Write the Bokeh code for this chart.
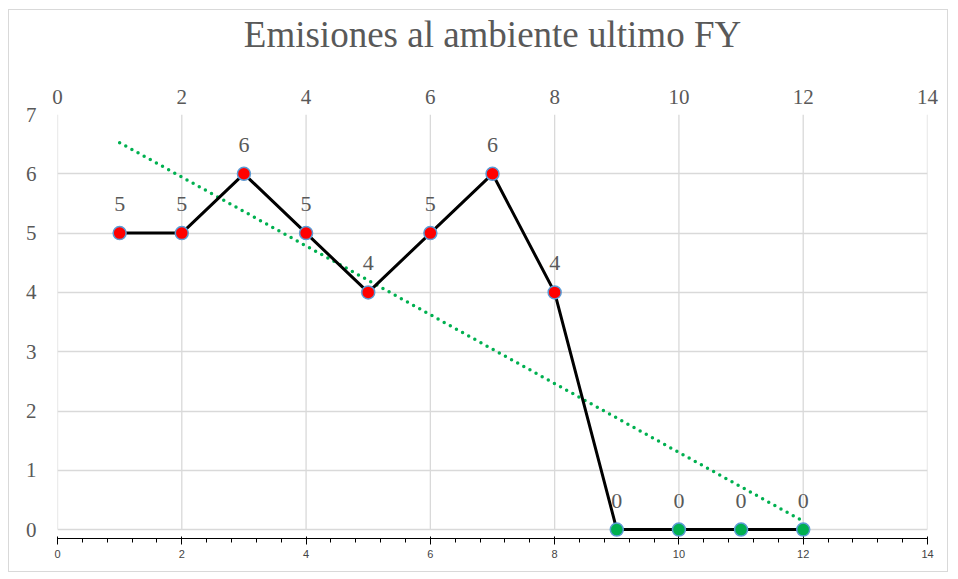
import numpy as np
from bokeh.plotting import figure
from bokeh.models import (ColumnDataSource, Range1d, FixedTicker, LabelSet,
                          LinearAxis)
from bokeh.embed import file_html
from bokeh.resources import INLINE

x_vals = [1, 2, 3, 4, 5, 6, 7, 8, 9, 10, 11, 12]
y_vals = [5, 5, 6, 5, 4, 5, 6, 4, 0, 0, 0, 0]
marker_fill = ["#FF0000"] * 8 + ["#00B050"] * 4
x_ticks = [0, 2, 4, 6, 8, 10, 12, 14]
y_ticks = [0, 1, 2, 3, 4, 5, 6, 7]
title_text = "Emisiones al ambiente ultimo FY"

FONT = "Times New Roman"
TXT = "#595959"
GRID = "#D9D9D9"

p = figure(width=940, height=563, output_backend="svg", toolbar_location=None,
           x_range=Range1d(x_ticks[0], x_ticks[-1]),
           y_range=Range1d(-0.15, y_ticks[-1]),
           min_border_left=48, min_border_right=22, min_border_top=96,
           min_border_bottom=35)
p.outline_line_color = None
p.styles = {"border": "1px solid #D9D9D9", "margin": "9px 0 0 8px"}

# chart title drawn as the label of an otherwise empty top axis
top_axis = LinearAxis(ticker=FixedTicker(ticks=[]), axis_label=title_text,
                      axis_label_text_font=FONT,
                      axis_label_text_font_size="37px",
                      axis_label_text_font_style="normal",
                      axis_label_text_color=TXT, axis_label_standoff=32,
                      axis_line_color=None, major_tick_line_color=None,
                      minor_tick_line_color=None,
                      major_label_text_font_size="0px")
p.add_layout(top_axis, "above")

for ax in (p.xaxis[0], p.yaxis[0]):
    ax.axis_line_color = None
    ax.major_tick_line_color = None
    ax.minor_tick_line_color = None
    ax.major_label_text_font = FONT
    ax.major_label_text_font_size = "21px"
    ax.major_label_text_color = TXT
p.xaxis[0].ticker = FixedTicker(ticks=x_ticks)
p.yaxis[0].ticker = FixedTicker(ticks=y_ticks)
p.xaxis[0].major_label_standoff = 5
p.yaxis[0].major_label_standoff = 15
p.xgrid.visible = False
p.ygrid.ticker = FixedTicker(ticks=y_ticks)
p.ygrid.grid_line_color = GRID
p.ygrid.grid_line_width = 1.3

p.segment(x0=x_ticks, y0=[y_ticks[0]] * len(x_ticks), x1=x_ticks,
          y1=[y_ticks[-1]] * len(x_ticks), line_color=GRID, line_width=1.3,
          level="underlay")

src = ColumnDataSource(dict(x=x_vals, y=y_vals, fill=marker_fill,
                            lbl=[str(v) for v in y_vals]))

slope, intercept = np.polyfit(x_vals, y_vals, 1)
tx = [x_vals[0], x_vals[-1]]
ty = [slope * t + intercept for t in tx]
p.line(tx, ty, line_color="#00B050", line_width=3.5, line_dash="0 7",
       line_cap="round")

p.line("x", "y", source=src, line_color="black", line_width=3)
p.scatter("x", "y", source=src, size=13, fill_color="fill",
          line_color="#5B9BD5", line_width=1.5)
p.add_layout(LabelSet(x="x", y="y", text="lbl", source=src, text_font=FONT,
                      text_font_size="22px", text_color=TXT,
                      text_align="center", text_baseline="middle",
                      y_offset=29))

open("out.html", "w").write(file_html(p, INLINE))
